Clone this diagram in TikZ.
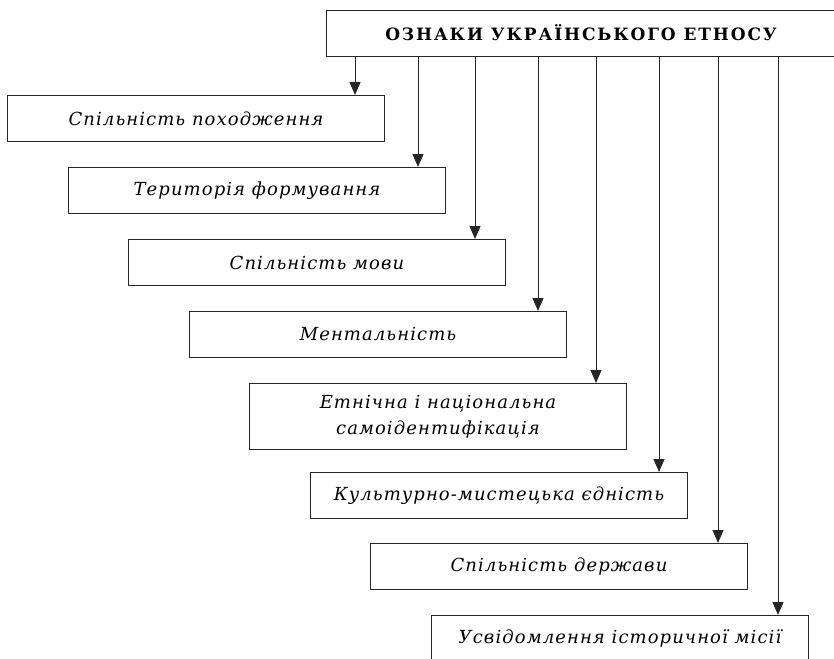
\documentclass[tikz,border=0pt]{standalone}
\usepackage{fontspec}
\setmainfont{DejaVu Serif}
\newfontfamily\itf[LetterSpace=6]{DejaVu Serif}
\newfontfamily\bff[LetterSpace=11]{DejaVu Serif}
\usetikzlibrary{arrows.meta}
\tikzset{
  item/.style={draw=black!85, line width=1pt, minimum width=377pt, minimum height=46pt,
    inner sep=0pt, align=center, font=\itf\itshape\fontsize{18}{26}\selectfont, anchor=north west},
  head/.style={draw=black!85, line width=1pt, minimum height=46pt, minimum width=530pt,
    inner sep=0pt, anchor=north west},
  arr/.style={draw=black!85, line width=1pt, -{Triangle[width=11pt,length=13pt]}}
}
\begin{document}
\begin{tikzpicture}[x=1pt,y=-1pt]
\useasboundingbox (0,0) rectangle (834,658);
\clip (0,0) rectangle (834,658);
\node[head] (top) at (326,10) {};
\node[font=\bff\bfseries\fontsize{17}{19}\selectfont] (title) at (581,33) {ОЗНАКИ УКРАЇНСЬКОГО ЕТНОСУ};
\node[item] (b1) at (7,95) {Спільність походження};
\node[item] (b2) at (68,167) {Територія формування};
\node[item] (b3) at (128,239) {Спільність мови};
\node[item] (b4) at (189,311) {Ментальність};
\node[item, minimum height=66pt] (b5) at (249,383) {Етнічна і національна\\самоідентифікація};
\node[item] (b6) at (310,472) {Культурно-мистецька єдність};
\node[item] (b7) at (370,543) {Спільність держави};
\node[item] (b8) at (431,615) {Усвідомлення історичної місії};
\foreach \b/\d in {b1/30,b2/28,b3/31,b4/29,b5/31,b6/29,b7/30,b8/31}{
  \draw[arr] ([xshift=-\d pt]\b.north east |- top.south) -- ([xshift=-\d pt]\b.north east);
}
\end{tikzpicture}
\end{document}
